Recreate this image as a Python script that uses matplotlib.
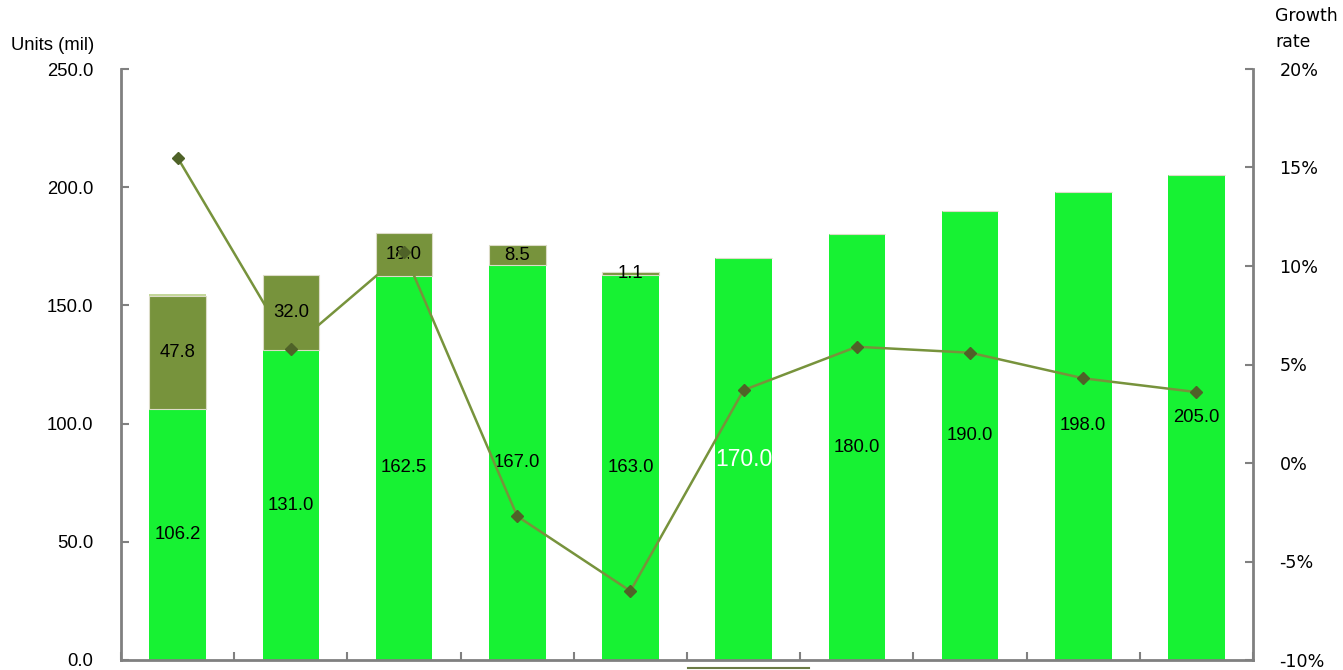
import matplotlib
matplotlib.use("Agg")
import matplotlib.pyplot as plt
from matplotlib.lines import Line2D
import numpy as np

# Data
categories = ["1", "2", "3", "4", "5", "6", "7", "8", "9", "10"]
base_units = [106.2, 131.0, 162.5, 167.0, 163.0, 170.0, 180.0, 190.0, 198.0, 205.0]
extra_units = [47.8, 32.0, 18.0, 8.5, 1.1, 0, 0, 0, 0, 0]
other_units = [1.0, 0, 0, 0, 0, 0, 0, 0, 0, 0]
growth_rate = [15.5, 5.8, 10.7, -2.7, -6.5, 3.7, 5.9, 5.6, 4.3, 3.6]

GREEN = "#17F233"
OLIVE = "#77933C"
LIGHT = "#C4D79B"
MARKER = "#4F6228"
SPINE = "#808080"

fig = plt.figure(figsize=(13.43, 6.70), dpi=100)
ax = fig.add_axes([121 / 1343, 10 / 670, 1132 / 1343, 591 / 670])
ax2 = ax.twinx()

x = np.arange(len(categories))
w = 0.5
base = np.array(base_units)
extra = np.array(extra_units)
other = np.array(other_units)

ax.bar(x, base, width=w, color=GREEN, zorder=2)
ax.bar(x, extra, width=w, bottom=base, color=OLIVE,
       edgecolor="#DCDCC8", linewidth=0.8, zorder=2)
ax.bar(x, other, width=w, bottom=base + extra, color=LIGHT, zorder=2)

LABEL_FS = 13.3

# value labels centred in each segment
for i, v in enumerate(base_units):
    if i == 5:
        ax.text(x[i], v / 2, f"{v:.1f}", ha="center", va="center",
                fontsize=16.5, color="white", family="Liberation Sans", zorder=6)
    else:
        ax.text(x[i], v / 2, f"{v:.1f}", ha="center", va="center",
                fontsize=LABEL_FS, color="black", family="Liberation Sans", zorder=6)
for i, v in enumerate(extra_units):
    if v > 0:
        ax.text(x[i], base_units[i] + v / 2, f"{v:.1f}", ha="center", va="center",
                fontsize=LABEL_FS, color="black", family="Liberation Sans", zorder=6)

ax.set_xlim(-0.5, len(categories) - 0.5)
ax.set_ylim(0, 250)
ax.set_yticks(np.arange(0, 251, 50))
ax.set_yticklabels([f"{t:.1f}" for t in np.arange(0, 251, 50)],
                   family="Liberation Sans", fontsize=LABEL_FS)
ax.set_xticks(np.arange(-0.5, len(categories) - 0.5 + 0.01, 1.0))
ax.set_xticklabels([])
ax.tick_params(axis="x", direction="in", length=6, width=1.5, color=SPINE)
ax.tick_params(axis="y", direction="in", length=6, width=1.5, color=SPINE, pad=20)

# growth line on secondary axis
ax2.plot(x, growth_rate, color=OLIVE, linewidth=1.8, marker="D",
         markersize=6, markerfacecolor=MARKER, markeredgecolor=MARKER, zorder=5)
ax2.set_ylim(-10, 20)
ax2.set_yticks(np.arange(-10, 21, 5))
ax2.set_yticklabels([f"{t}%" for t in range(-10, 21, 5)],
                    family="DejaVu Sans", fontsize=12.6)
ax2.tick_params(axis="y", direction="in", length=6, width=1.5, color=SPINE, pad=19)

ax.set_zorder(ax2.get_zorder() - 1)
ax.patch.set_visible(True)
ax2.patch.set_visible(False)

for a in (ax, ax2):
    a.spines["top"].set_visible(False)
    for s in ("left", "right", "bottom"):
        a.spines[s].set_color(SPINE)
        a.spines[s].set_linewidth(2)
ax.spines["right"].set_visible(False)
ax2.spines["left"].set_visible(False)
ax2.spines["bottom"].set_visible(False)

fig.text(11 / 1343, 1 - 45 / 670, "Units (mil)", family="Liberation Sans",
         fontsize=LABEL_FS, ha="left", va="center")
fig.text(1275 / 1343, 1 - 29 / 670, "Growth\nrate", family="DejaVu Sans",
         fontsize=12.4, ha="left", va="center", linespacing=1.55)

# top edge of the legend frame below the plot
fig.add_artist(Line2D([688 / 1343, 809 / 1343], [1.6 / 670, 1.6 / 670],
                      transform=fig.transFigure, color="#6B7B45", linewidth=1.5))

fig.savefig("out.png", dpi=100)
